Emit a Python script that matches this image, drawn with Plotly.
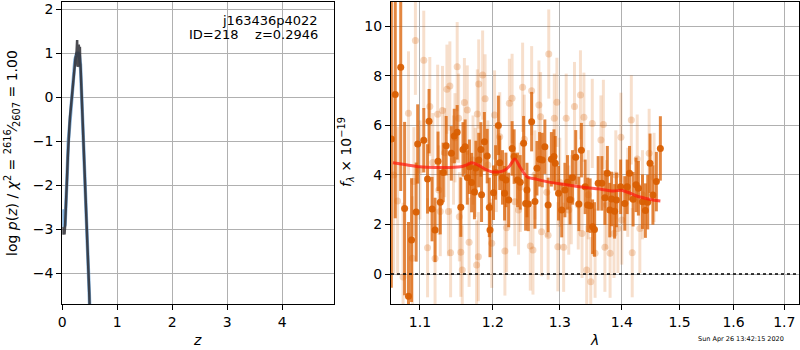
import plotly.graph_objects as go

# ---------------- data ----------------
# left panel: log p(z)
z_blue = [0, 0.01, 0.02, 0.03, 0.05, 0.07, 0.09, 0.11, 0.13, 0.15,
          0.17, 0.19, 0.21, 0.23, 0.25, 0.27, 0.29, 0.31, 0.33, 0.35,
          0.37, 0.39, 0.41, 0.43, 0.45, 0.47, 0.49, 0.51]
lp_blue = [-2.55, -2.6, -2.8, -2.95, -2.9, -2.45, -1.7, -1.0, -0.65, -0.3,
           0.0, 0.35, 0.65, 0.85, 0.95, 1.0, 1.0, 0.95, 0.75, 0.15,
           -0.45, -1.05, -1.65, -2.25, -2.85, -3.6, -4.45, -5.3]

z_dark = [0.0, 0.01, 0.02, 0.03, 0.04, 0.05, 0.06, 0.07, 0.08, 0.09,
          0.10, 0.11, 0.115, 0.12, 0.13, 0.14, 0.15, 0.16, 0.17, 0.18,
          0.19, 0.20, 0.21, 0.22, 0.23, 0.24, 0.25, 0.26, 0.27, 0.275,
          0.28, 0.285, 0.29, 0.30, 0.305, 0.31, 0.315, 0.32, 0.325, 0.33,
          0.34, 0.35, 0.36, 0.37, 0.38, 0.39, 0.40, 0.41, 0.42, 0.43,
          0.44, 0.45, 0.46, 0.47, 0.48, 0.49, 0.50, 0.51]
lp_dark = [-2.95, -3.05, -3.12, -3.05, -3.12, -2.95, -2.7, -2.4, -2.05, -1.7,
           -1.35, -1.0, -0.88, -1.0, -0.65, -0.45, -0.3, -0.15, 0.0, 0.18,
           0.35, 0.5, 0.65, 0.75, 0.85, 0.9, 0.95, 1.05, 1.3, 0.7,
           1.05, 0.72, 0.7, 1.2, 0.72, 1.15, 0.78, 1.15, 0.8, 0.75,
           0.45, 0.15, -0.15, -0.45, -0.75, -1.05, -1.35, -1.65, -1.95, -2.25,
           -2.55, -2.85, -3.2, -3.6, -4.0, -4.45, -4.9, -5.35]

# right panel: spectrum (dark = primary, light = secondary)
wave_dark = [1.063, 1.068, 1.075, 1.080, 1.085, 1.089, 1.095, 1.097, 1.105, 1.110,
             1.112, 1.116, 1.120, 1.124, 1.127, 1.131, 1.135, 1.142, 1.146, 1.150,
             1.155, 1.158, 1.161, 1.164, 1.167, 1.170, 1.174, 1.176, 1.180, 1.183,
             1.184, 1.188, 1.192, 1.195, 1.196, 1.201, 1.204, 1.208, 1.210, 1.214,
             1.217, 1.219, 1.223, 1.228, 1.231, 1.236, 1.240, 1.245, 1.248, 1.250,
             1.252, 1.257, 1.262, 1.265, 1.269, 1.273, 1.277, 1.282, 1.287, 1.291,
             1.293, 1.298, 1.303, 1.308, 1.312, 1.316, 1.320, 1.325, 1.330, 1.334,
             1.340, 1.344, 1.348, 1.352, 1.355, 1.361, 1.367, 1.372, 1.376, 1.380,
             1.383, 1.388, 1.391, 1.398, 1.405, 1.409, 1.413, 1.419, 1.424, 1.428,
             1.435, 1.440, 1.444, 1.448, 1.453, 1.459, 1.466]
flux_dark = [5.45, 7.25, 8.35, 2.64, -0.90, 1.37, 2.50, 5.25, 5.40, 3.84,
             6.17, 2.62, 1.78, 4.55, 2.90, 4.10, 5.18, 4.87, 5.57, 5.72,
             2.70, 5.03, 5.14, 3.90, 4.33, 3.69, 3.31, 4.28, 4.60, 5.03,
             3.20, 5.34, 4.76, 2.69, 1.78, 3.28, 4.10, 6.00, 4.49, 3.90,
             3.26, 3.80, 2.99, 5.07, 4.74, 3.80, 3.70, 5.28, 2.85, 3.39,
             2.83, 6.15, 2.93, 4.27, 4.63, 4.60, 5.14, 2.79, 4.63, 4.74,
             4.47, 3.26, 2.58, 3.39, 3.70, 3.00, 3.90, 4.71, 2.83, 5.00,
             3.52, 2.79, 2.76, 1.91, 1.80, 3.66, 3.66, 3.08, 4.07, 2.58,
             3.03, 2.53, 2.99, 3.52, 2.85, 3.52, 4.07, 3.02, 3.60, 3.46,
             2.92, 2.56, 2.90, 4.47, 3.19, 3.73, 5.07]
err_dark = [6.0, 5.0, 5.0, 3.5, 3.0, 2.5, 2.0, 1.6, 1.3, 1.4,
            1.3, 1.3, 1.3, 1.2, 1.3, 1.2, 1.2, 1.1, 1.1, 1.1,
            1.2, 1.1, 1.1, 1.1, 1.1, 1.2, 1.1, 1.1, 1.1, 1.1,
            1.1, 1.2, 1.1, 1.2, 1.1, 1.1, 1.1, 1.2, 1.1, 1.1,
            1.1, 1.1, 1.1, 1.1, 1.1, 1.1, 1.1, 1.1, 1.1, 1.1,
            1.1, 1.2, 1.1, 1.1, 1.1, 1.1, 1.1, 1.1, 1.1, 1.1,
            1.1, 1.1, 1.1, 1.1, 1.1, 1.0, 1.1, 1.1, 1.1, 1.1,
            1.1, 1.1, 1.1, 1.1, 1.1, 1.1, 1.1, 1.1, 1.1, 1.1,
            1.1, 1.1, 1.1, 1.1, 1.1, 1.1, 1.1, 1.1, 1.1, 1.1,
            1.1, 1.1, 1.1, 1.2, 1.2, 1.2, 1.3]

wave_light = [1.066, 1.071, 1.078, 1.085, 1.090, 1.092, 1.094, 1.100, 1.105, 1.110,
              1.113, 1.117, 1.120, 1.1235, 1.125, 1.127, 1.130, 1.133, 1.136, 1.138,
              1.140, 1.141, 1.145, 1.147, 1.150, 1.152, 1.153, 1.155, 1.157, 1.160,
              1.164, 1.1665, 1.172, 1.175, 1.177, 1.178, 1.1795, 1.180, 1.1855, 1.189,
              1.193, 1.1985, 1.2025, 1.205, 1.210, 1.2175, 1.220, 1.224, 1.228, 1.232,
              1.2375, 1.240, 1.2435, 1.246, 1.255, 1.257, 1.259, 1.262, 1.268, 1.2705,
              1.272, 1.280, 1.282, 1.283, 1.2915, 1.2955, 1.297, 1.300, 1.306, 1.310,
              1.314, 1.318, 1.323, 1.329, 1.3325, 1.335, 1.338, 1.3425, 1.345, 1.349,
              1.3515, 1.356, 1.3655, 1.3695, 1.372, 1.375, 1.3805, 1.387, 1.390, 1.3935,
              1.3985, 1.400, 1.410, 1.416, 1.4175, 1.426, 1.4305, 1.435, 1.4465, 1.455]
flux_light = [4.00, 2.95, -0.12, 6.49, 0.64, 3.73, 9.43, 4.20, 8.63, 1.06,
              6.76, 4.50, 0.63, 6.45, 3.39, 2.52, 6.60, 4.90, 7.46, 2.52,
              7.59, 0.86, 4.60, 5.50, 8.37, 6.29, 2.31, 0.88, 0.16, 6.92,
              6.62, 1.28, 4.60, 4.10, 0.36, 6.46, 0.70, 7.67, 8.03, 7.07,
              4.40, 1.24, 6.42, 4.30, 5.54, 0.93, 1.87, 6.89, 7.09, 2.92,
              2.58, 3.50, 7.54, 5.44, 1.13, 7.40, 0.97, 4.00, 6.82, 6.35,
              1.71, 3.30, 1.57, 8.88, 6.29, 6.93, 1.10, 3.70, 1.08, 6.29,
              2.58, 3.00, 6.76, 2.79, 7.23, 1.64, 6.33, 0.16, 3.20, -0.31,
              6.08, 0.84, 5.41, 6.04, 1.08, 2.80, 0.84, 1.64, 4.00, 1.84,
              5.52, 2.18, 3.30, 6.22, 0.86, 4.64, 1.84, 3.20, 4.87, 3.90]
err_light = [4.0, 3.0, 3.0, 2.5, 2.5, 2.2, 2.2, 2.0, 2.0, 2.0,
             2.0, 2.0, 2.0, 2.0, 1.8, 1.8, 1.8, 1.8, 1.8, 1.8,
             1.8, 1.8, 1.8, 1.8, 1.8, 1.8, 1.8, 1.8, 1.8, 1.8,
             1.8, 1.8, 1.8, 1.8, 1.8, 1.8, 1.8, 1.8, 1.8, 1.8,
             1.8, 1.8, 1.8, 1.8, 1.8, 1.8, 1.8, 1.8, 1.8, 1.8,
             1.8, 1.8, 1.8, 1.8, 1.8, 1.8, 1.8, 1.8, 1.8, 1.8,
             1.8, 1.8, 1.8, 1.8, 1.8, 1.8, 1.8, 1.8, 1.8, 1.8,
             1.8, 1.8, 1.8, 1.8, 1.8, 1.8, 1.8, 1.8, 1.8, 1.8,
             1.8, 1.8, 1.8, 1.8, 1.8, 1.8, 1.8, 1.8, 1.8, 1.8,
             1.8, 1.8, 1.8, 1.8, 1.8, 1.8, 1.8, 1.8, 1.8, 1.8]

wave_model = [1.065, 1.08, 1.10, 1.12, 1.14, 1.157, 1.164, 1.170, 1.178, 1.188,
              1.198, 1.208, 1.216, 1.224, 1.232, 1.240, 1.250, 1.265, 1.280, 1.30,
              1.331, 1.36, 1.386, 1.399, 1.41, 1.425, 1.441, 1.455, 1.466]
flux_model = [4.49, 4.42, 4.33, 4.3, 4.3, 4.34, 4.42, 4.49, 4.42, 4.25,
              4.13, 4.12, 4.17, 4.35, 4.64, 4.3, 3.93, 3.82, 3.73, 3.64,
              3.52, 3.44, 3.35, 3.38, 3.3, 3.15, 3.05, 2.98, 2.95]

left_xticks = [0, 1, 2, 3, 4]
left_yticks = [-4, -3, -2, -1, 0, 1, 2]
right_xticks = [1.1, 1.2, 1.3, 1.4, 1.5, 1.6, 1.7]
right_yticks = [0, 2, 4, 6, 8, 10]

# ---------------- figure ----------------
FONT = "DejaVu Sans"
ORANGE = "217,95,2"
W, H = 800, 350

fig = go.Figure()

fig.add_trace(go.Scatter(x=z_blue, y=lp_blue, mode="lines",
                         line=dict(color="rgba(90,150,205,0.75)", width=3.5),
                         xaxis="x", yaxis="y", showlegend=False))
fig.add_trace(go.Scatter(x=z_dark, y=lp_dark, mode="lines",
                         line=dict(color="rgba(45,45,50,0.85)", width=2.5),
                         xaxis="x", yaxis="y", showlegend=False))

fig.add_trace(go.Scatter(x=wave_light, y=flux_light, mode="markers",
                         marker=dict(size=7, color=f"rgba({ORANGE},0.25)", line=dict(width=0)),
                         error_y=dict(type="data", array=err_light, thickness=3, width=0,
                                      color=f"rgba({ORANGE},0.2)"),
                         xaxis="x2", yaxis="y2", showlegend=False))
fig.add_trace(go.Scatter(x=wave_dark, y=flux_dark, mode="markers",
                         marker=dict(size=7, color=f"rgba({ORANGE},0.95)", line=dict(width=0)),
                         error_y=dict(type="data", array=err_dark, thickness=3, width=0,
                                      color=f"rgba({ORANGE},0.75)"),
                         xaxis="x2", yaxis="y2", showlegend=False))
fig.add_trace(go.Scatter(x=wave_model, y=flux_model, mode="lines",
                         line=dict(color="rgba(255,20,10,0.7)", width=3, shape="spline", smoothing=0.8),
                         xaxis="x2", yaxis="y2", showlegend=False))

axis_common = dict(showline=True, mirror=True, linecolor="black", linewidth=1,
                   showgrid=True, gridcolor="#b0b0b0", gridwidth=1,
                   ticks="outside", ticklen=5, tickwidth=1, tickcolor="black",
                   tickfont=dict(family=FONT, size=14, color="black"),
                   zeroline=False, automargin=False)

def fmt(v):
    return f"{v:g}".replace("-", "\u2212")

ydom = [1 - 304 / H, 1 - 2 / H]
fig.update_layout(
    width=W, height=H,
    margin=dict(l=0, r=0, t=0, b=0, pad=0),
    paper_bgcolor="white", plot_bgcolor="white",
    hovermode=False,
    xaxis=dict(domain=[62.3 / W, 334.3 / W], range=[0, 4.945], anchor="y",
               tickvals=left_xticks, ticktext=[fmt(v) for v in left_xticks], **axis_common),
    yaxis=dict(domain=ydom, range=[-4.70, 2.166], anchor="x",
               tickvals=left_yticks, ticktext=[fmt(v) for v in left_yticks], **axis_common),
    xaxis2=dict(domain=[391 / W, 799 / W], type="log", range=[0.02636, 0.23807], anchor="y2",
                tickvals=right_xticks, ticktext=[f"{v:.1f}" for v in right_xticks], **axis_common),
    yaxis2=dict(domain=ydom, range=[-1.21, 10.98], anchor="x2",
                tickvals=right_yticks, ticktext=[fmt(v) for v in right_yticks], **axis_common),
)

fig.add_shape(type="line", xref="x2 domain", yref="y2", x0=0, x1=1, y0=0, y1=0,
              line=dict(color="black", width=1.6, dash="dot"))

def ann(text, x, y, size=14, xanchor="center", yanchor="middle", angle=0):
    fig.add_annotation(text=text, x=x / W, y=1 - y / H, xref="paper", yref="paper",
                       showarrow=False, xanchor=xanchor, yanchor=yanchor, textangle=angle,
                       font=dict(family=FONT, size=size, color="black"))

ann("<i>z</i>", 197, 340)
ann("<i>λ</i>", 594, 340)
ann("log <i>p</i>(<i>z</i>) / <i>χ</i><sup>2</sup> = <sup>2616</sup>⁄<sub>2607</sub> = 1.00",
    12, 153, angle=-90)
ann("<i>f</i><sub><i>λ</i></sub> × 10<sup>−19</sup>", 346, 152, angle=-90)
ann("j163436p4022", 320, 20, size=13, xanchor="right")
ann("ID=218    z=0.2946", 320, 35, size=13, xanchor="right")
ann("Sun Apr 26 13:42:15 2020", 696, 339, size=6.5, xanchor="left")

fig.write_html(
    "out.html",
    config={"displayModeBar": False},
    post_script="document.body.style.margin='0';document.body.style.overflow='hidden';",
)
